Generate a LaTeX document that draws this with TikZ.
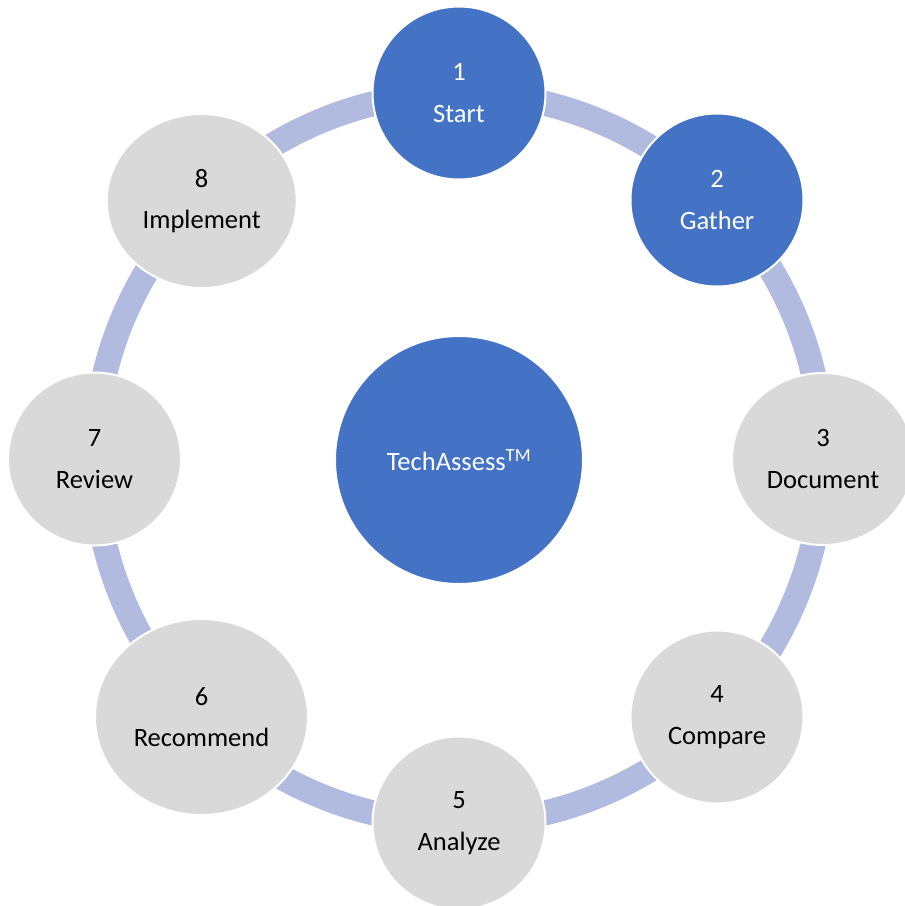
\documentclass[tikz,border=0pt]{standalone}
\usepackage{fontspec}
\setmainfont{Carlito}
\usetikzlibrary{shapes.geometric,backgrounds}
\definecolor{stepblue}{HTML}{4472C4}
\definecolor{stepgray}{HTML}{D9D9D9}
\definecolor{ringblue}{HTML}{B0BBDF}
\tikzset{
    stage/.style={circle,draw=white,line width=2pt,minimum size=173pt,inner sep=0pt,
        align=center,font=\fontsize{26.5}{41.3}\selectfont},
    donestage/.style={stage,fill=stepblue,text=white},
    openstage/.style={stage,fill=stepgray,text=black},
    ring/.style={ringblue,line width=25pt,bend left=22.5,looseness=0.885}
}
\begin{document}
\begin{tikzpicture}[x=1pt,y=-1pt]
    \useasboundingbox (0,0) rectangle (905,906);

    \node[donestage,minimum size=248pt] (hub) at (459,460) {TechAssess\textsuperscript{TM}};

    \node[donestage] (n1) at (459,93)  {1\\Start};
    \node[donestage] (n2) at (717,200) {2\\Gather};
    \node[openstage,ellipse,minimum width=182pt,minimum height=172pt] (n3) at (823,459) {3\\Document};
    \node[openstage] (n4) at (717,717) {4\\Compare};
    \node[openstage] (n5) at (459,823) {5\\Analyze};
    \node[openstage,ellipse,minimum width=213pt,minimum height=196pt] (n6) at (201.5,717) {6\\Recommend};
    \node[openstage] (n7) at (94.5,459) {7\\Review};
    \node[openstage,ellipse,minimum width=190pt,minimum height=174pt] (n8) at (201.7,201) {8\\Implement};

    % ring behind the stages
    \begin{scope}[on background layer]
        \foreach \from/\to in {n1/n2,n2/n3,n3/n4,n4/n5,n5/n6,n6/n7,n7/n8,n8/n1}
            \draw[ring] (\from.center) to (\to.center);
    \end{scope}

\end{tikzpicture}
\end{document}
